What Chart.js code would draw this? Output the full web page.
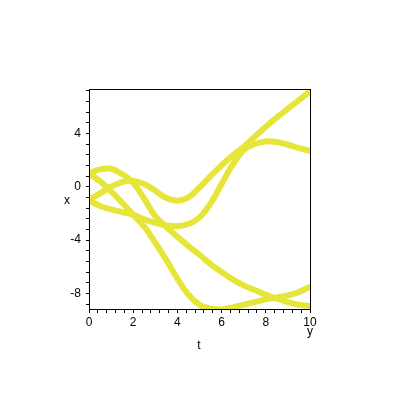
<!DOCTYPE html>
<html>
<head>
<meta charset="utf-8">
<script src="https://cdn.jsdelivr.net/npm/chart.js@4/dist/chart.umd.min.js"></script>
<style>
  body { margin: 0; background: #fff; }
  canvas { display: block; }
</style>
</head>
<body>
<canvas id="chart" width="400" height="400"></canvas>
<script>
// Data
const tValues = [0, 0.5, 1, 1.5, 2, 2.5, 3, 3.5, 4, 4.5, 5, 5.5, 6, 6.5, 7, 7.5, 8, 8.5, 9, 9.5, 10];
const curveA = [1.0, 1.3, 1.35, 0.95, 0.3, -0.9, -2.2, -3.0, -3.75, -4.45, -5.1, -5.8, -6.4, -6.95, -7.4, -7.75, -8.1, -8.4, -8.65, -8.85, -8.95];
const curveB = [1.0, 0.4, -0.35, -1.2, -2.1, -3.0, -4.2, -5.5, -6.9, -8.1, -8.85, -9.15, -9.2, -9.05, -8.85, -8.65, -8.45, -8.3, -8.15, -7.9, -7.5];
const curveC = [-1.0, -0.5, 0.0, 0.35, 0.45, 0.2, -0.3, -0.85, -1.05, -0.8, -0.05, 0.8, 1.6, 2.35, 3.0, 3.75, 4.5, 5.2, 5.85, 6.5, 7.15];
const curveD = [-1.0, -1.45, -1.7, -1.9, -2.1, -2.45, -2.7, -2.9, -2.95, -2.8, -2.3, -1.25, 0.2, 1.65, 2.75, 3.2, 3.4, 3.35, 3.15, 2.9, 2.7];

// Tick marks and the ones that carry a label
const xTicks = [0, 0.4, 0.8, 1.2, 1.6, 2, 2.4, 2.8, 3.2, 3.6, 4, 4.4, 4.8, 5.2, 5.6, 6, 6.4, 6.8, 7.2, 7.6, 8, 8.4, 8.8, 9.2, 9.6, 10];
const xLabels = [0, 2, 4, 6, 8, 10];
const yTicks = [-8.8, -8, -7.2, -6.4, -5.6, -4.8, -4, -3.2, -2.4, -1.6, -0.8, 0, 0.8, 1.6, 2.4, 3.2, 4, 4.8, 5.6, 6.4, 7.2];
const yLabels = [-8, -4, 0, 4];

const lineColor = '#e6e63a';
const font = { family: '"Liberation Sans", Arial, sans-serif', size: 12 };

function toPoints(ys) {
  return tValues.map((t, i) => ({ x: t, y: ys[i] }));
}

function makeSet(ys) {
  return {
    data: toPoints(ys),
    borderColor: lineColor,
    borderWidth: 6,
    borderCapStyle: 'round',
    borderJoinStyle: 'round',
    pointRadius: 0,
    tension: 0.4,
    fill: false
  };
}

function isLabel(list, v) {
  return list.some(l => Math.abs(l - v) < 1e-6);
}

// Frame and axis titles
const framePlugin = {
  id: 'frame',
  afterDraw(chart) {
    const { ctx, chartArea: a } = chart;
    ctx.save();
    ctx.strokeStyle = '#000';
    ctx.lineWidth = 1;
    ctx.strokeRect(a.left + 0.5, a.top + 0.5, a.right - a.left, a.bottom - a.top);
    ctx.fillStyle = '#000';
    ctx.font = '12px "Liberation Sans", Arial, sans-serif';
    ctx.textAlign = 'center';
    ctx.textBaseline = 'middle';
    ctx.fillText('t', 199, 346);
    ctx.fillText('x', 67, 201);
    ctx.fillText('y', 310, 332);
    ctx.restore();
  }
};

new Chart(document.getElementById('chart'), {
  type: 'line',
  data: {
    datasets: [makeSet(curveA), makeSet(curveB), makeSet(curveC), makeSet(curveD)]
  },
  options: {
    responsive: false,
    animation: false,
    layout: { padding: { top: 89, right: 90, left: 0, bottom: 0 } },
    plugins: { legend: { display: false }, tooltip: { enabled: false } },
    scales: {
      x: {
        type: 'linear',
        min: 0,
        max: 10,
        afterFit: s => { s.height = 91; },
        afterBuildTicks: s => { s.ticks = xTicks.map(v => ({ value: v })); },
        grid: { drawOnChartArea: false, drawTicks: true, tickLength: 4, color: '#000' },
        border: { color: '#000' },
        ticks: {
          autoSkip: false,
          maxRotation: 0,
          padding: 2,
          color: '#000',
          font: font,
          callback: v => isLabel(xLabels, v) ? String(Math.round(v)) : ''
        }
      },
      y: {
        type: 'linear',
        min: -9.17,
        max: 7.33,
        afterFit: s => { s.width = 89; },
        afterBuildTicks: s => { s.ticks = yTicks.map(v => ({ value: v })); },
        grid: { drawOnChartArea: false, drawTicks: true, tickLength: 3, color: '#000' },
        border: { color: '#000' },
        ticks: {
          autoSkip: false,
          padding: 5,
          color: '#000',
          font: font,
          callback: v => isLabel(yLabels, v) ? String(Math.round(v)) : ''
        }
      }
    }
  },
  plugins: [framePlugin]
});
</script>
</body>
</html>
